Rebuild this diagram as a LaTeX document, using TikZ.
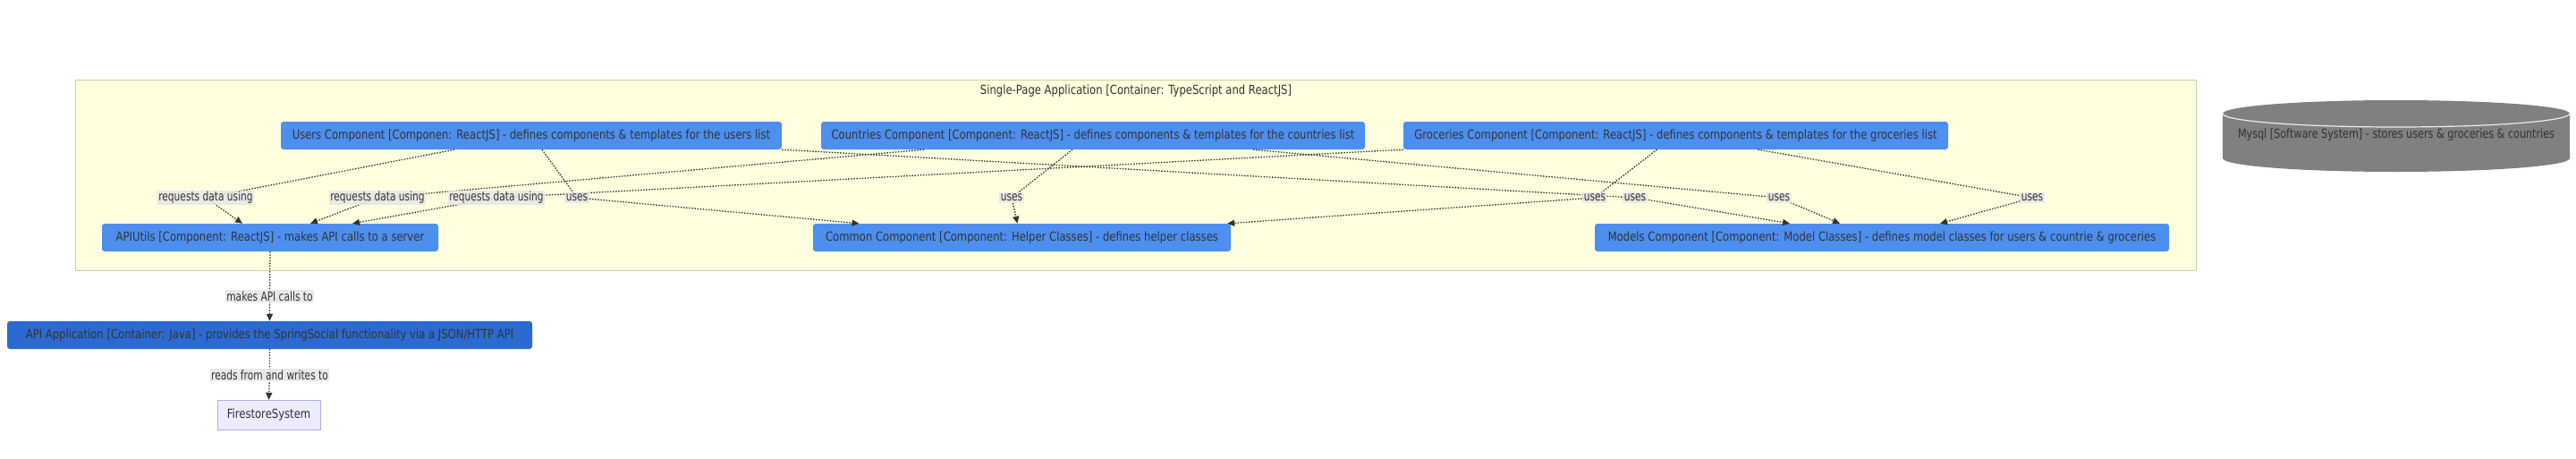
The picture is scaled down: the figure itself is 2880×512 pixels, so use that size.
\documentclass[tikz,border=0pt]{standalone}
\usepackage{fontspec}
\setmainfont{DejaVu Sans}[FakeStretch=0.83]
\newfontfamily\lblfont{DejaVu Sans}[FakeStretch=0.76]
\newfontfamily\dbfont{DejaVu Sans}[FakeStretch=0.8]
\usetikzlibrary{arrows.meta}

\definecolor{compblue}{HTML}{4C8FEF}
\definecolor{contblue}{HTML}{2B6AD1}
\definecolor{spafill}{HTML}{FFFFE0}
\definecolor{spaline}{HTML}{CFCF9E}
\definecolor{txtgray}{HTML}{333333}
\definecolor{lblgray}{HTML}{E6E6E6}
\definecolor{fsfill}{HTML}{ECECFF}
\definecolor{fsline}{HTML}{B9A8EC}
\definecolor{dbgray}{HTML}{808080}

\begin{document}
\begin{tikzpicture}[x=1pt,y=-1pt,
    font=\fontsize{14}{16}\selectfont, text=txtgray,
    comp/.style={rounded corners=3pt, fill=compblue, minimum height=31pt, inner sep=0pt},
    rel/.style={draw=txtgray, line width=1.3pt, dash pattern=on 1.5pt off 1.6pt, -{Triangle[length=8pt,width=7pt]}},
    lbl/.style={fill=lblgray, fill opacity=0.85, text opacity=1, inner sep=1.5pt, font=\fontsize{14}{16}\lblfont}]

%\draw [help lines,step=50] (0,0) grid (2880,512);
    \useasboundingbox (0,0) rectangle (2880,512);
    \fill [white] (0,0) rectangle (2880,512);

	%%% container
    \node [draw=spaline, fill=spafill, minimum width=2371pt, minimum height=213pt, inner sep=0pt] (spa) at (1269.5,195.5) {};
    \node (spatitle) at (1270,102) {Single-Page Application [Container: TypeScript and ReactJS]};

	%%% components
    \node [comp, minimum width=560pt] (users) at (594,151.5) {Users Component [Componen: ReactJS] - defines components \& templates for the users list};
    \node [comp, minimum width=608pt] (countries) at (1222,151.5) {Countries Component [Component: ReactJS] - defines components \& templates for the countries list};
    \node [comp, minimum width=609pt] (groceries) at (1873.5,151.5) {Groceries Component [Component: ReactJS] - defines components \& templates for the groceries list};

    \node [comp, minimum width=376pt] (apiutils) at (302,265.5) {APIUtils [Component: ReactJS] - makes API calls to a server};
    \node [comp, minimum width=467pt] (common) at (1142.5,265.5) {Common Component [Component: Helper Classes] - defines helper classes};
    \node [comp, minimum width=642pt] (models) at (2104,265.5) {Models Component [Component: Model Classes] - defines model classes for users \& countrie \& groceries};

	%%% outside
    \node [comp, fill=contblue, minimum width=587pt] (apiapp) at (301.5,374.5) {API Application [Container: Java] - provides the SpringSocial functionality via a JSON/HTTP API};
    \node [draw=fsline, fill=fsfill, minimum width=115pt, minimum height=33pt, inner sep=0pt] (firestore) at (300.5,463.5) {FirestoreSystem};

    % mysql cylinder
    \fill [dbgray] (2485,127) -- (2485,177) arc [start angle=180, end angle=360, x radius=194pt, y radius=15pt]
        -- (2873,127) arc [start angle=0, end angle=180, x radius=194pt, y radius=15pt] -- cycle;
    \draw [white!85!gray, line width=1.2pt] (2485,127) arc [start angle=180, end angle=360, x radius=194pt, y radius=15pt];
    \node [font=\fontsize{14}{16}\dbfont] (mysql) at (2679,151) {Mysql [Software System] - stores users \& groceries \& countries};

	%%% label points
    \coordinate (cReqA) at (230,221);
    \coordinate (cReqB) at (422,221);
    \coordinate (cReqC) at (555,221);
    \coordinate (cUseA) at (645,221);
    \coordinate (cUseB) at (1131,221);
    \coordinate (cUseC) at (1783,221);
    \coordinate (cUseD) at (1828,221);
    \coordinate (cUseE) at (1989,221);
    \coordinate (cUseF) at (2272,221);
    \coordinate (cCalls) at (301.5,331);
    \coordinate (cRW) at (301.5,419);

	%%% relations
    \draw [rel] ([xshift=-86pt]users.south) -- (cReqA) -- ([xshift=-31pt]apiutils.north);
    \draw [rel] ([xshift=-189pt]countries.south) -- (cReqB) -- ([xshift=45pt]apiutils.north);
    \draw [rel] (groceries.south west) -- (cReqC) -- ([xshift=92pt]apiutils.north);

    \draw [rel] ([xshift=12pt]users.south) -- (cUseA) -- ([xshift=-182pt]common.north);
    \draw [rel] ([xshift=-23pt]countries.south) -- (cUseB) -- ([xshift=-5pt]common.north);
    \draw [rel] ([xshift=-21pt]groceries.south) -- (cUseC) -- ([xshift=-4pt]common.north east);

    \draw [rel] (users.south east) -- (cUseD) -- ([xshift=-103pt]models.north);
    \draw [rel] ([xshift=179pt]countries.south) -- (cUseE) -- ([xshift=-47pt]models.north);
    \draw [rel] ([xshift=92pt]groceries.south) -- (cUseF) -- ([xshift=65pt]models.north);

    \draw [rel] (apiutils.south) -- (cCalls) -- (apiapp.north);
    \draw [rel] (apiapp.south) -- (cRW) -- (firestore.north);

	%%% labels
    \node [lbl] (lReqA) at (cReqA) {requests data using};
    \node [lbl] (lReqB) at (cReqB) {requests data using};
    \node [lbl] (lReqC) at (cReqC) {requests data using};
    \node [lbl] (lUseA) at (cUseA) {uses};
    \node [lbl] (lUseB) at (cUseB) {uses};
    \node [lbl] (lUseC) at (cUseC) {uses};
    \node [lbl] (lUseD) at (cUseD) {uses};
    \node [lbl] (lUseE) at (cUseE) {uses};
    \node [lbl] (lUseF) at (cUseF) {uses};
    \node [lbl] (lCalls) at (cCalls) {makes API calls to};
    \node [lbl] (lRW) at (cRW) {reads from and writes to};

\end{tikzpicture}
\end{document}
